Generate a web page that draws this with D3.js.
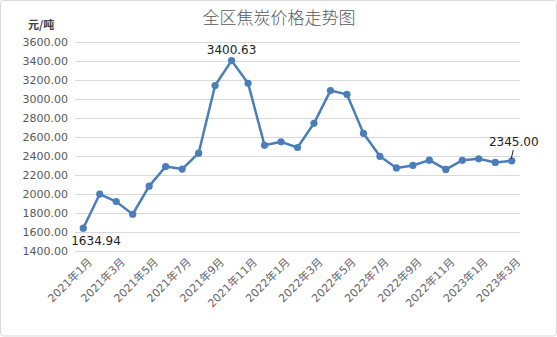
<!DOCTYPE html>
<html>
<head>
<meta charset="utf-8">
<script src="https://cdn.jsdelivr.net/npm/d3@7"></script>
<style>
  body { margin: 0; background: #fff; }
  text { font-family: "DejaVu Sans", "Noto Sans CJK SC", sans-serif; }
</style>
</head>
<body>
<div id="chartArea"></div>
<script>
const width = 557;
const height = 337;

// 月份
const months = [
    "2021年1月", "2021年2月", "2021年3月", "2021年4月", "2021年5月", "2021年6月",
    "2021年7月", "2021年8月", "2021年9月", "2021年10月", "2021年11月", "2021年12月",
    "2022年1月", "2022年2月", "2022年3月", "2022年4月", "2022年5月", "2022年6月",
    "2022年7月", "2022年8月", "2022年9月", "2022年10月", "2022年11月", "2022年12月",
    "2023年1月", "2023年2月", "2023年3月"
];
// 价格 元/吨
const prices = [
    1634.94, 1995, 1915, 1782, 2078, 2285, 2258, 2425, 3138, 3400.63, 3162, 2508,
    2545, 2485, 2740, 3085, 3045, 2635, 2392, 2270, 2296, 2352, 2254, 2350,
    2366, 2328, 2345.00
];
const yTicks = [1400, 1600, 1800, 2000, 2200, 2400, 2600, 2800, 3000, 3200, 3400, 3600];
const labeled = [0, 9, 26];

const margin = { left: 75, right: 37, top: 41.7, bottom: 86.5 };

const svg = d3.select("#chartArea")
    .append("svg")
    .attr("width", width)
    .attr("height", height);

svg.append("rect")
    .attr("x", 0.5).attr("y", 0.5)
    .attr("width", width - 1).attr("height", height - 1.5)
    .attr("rx", 3)
    .attr("fill", "#fff")
    .attr("stroke", "#d9d9d9");

const x = d3.scalePoint()
    .domain(months)
    .range([margin.left, width - margin.right])
    .padding(0.5);

const y = d3.scaleLinear()
    .domain([1400, 3600])
    .range([height - margin.bottom, margin.top]);

// grid lines
svg.append("g")
    .selectAll("line")
    .data(yTicks)
    .enter().append("line")
    .attr("x1", margin.left)
    .attr("x2", width - margin.right)
    .attr("y1", d => Math.round(y(d)) + 0.5)
    .attr("y2", d => Math.round(y(d)) + 0.5)
    .attr("stroke", "#d9d9d9")
    .attr("stroke-width", 1);

const yAxis = svg.append("g")
    .attr("transform", `translate(${margin.left - 7},0)`)
    .call(d3.axisLeft(y).tickValues(yTicks).tickFormat(d3.format(".2f")).tickSize(0).tickPadding(0));
yAxis.select(".domain").remove();
yAxis.selectAll("text")
    .attr("fill", "#595959")
    .style("font-size", "11px");

const xAxis = svg.append("g")
    .attr("transform", `translate(0,${height - margin.bottom})`)
    .call(d3.axisBottom(x).tickValues(months.filter((d, i) => i % 2 === 0)).tickSize(0));
xAxis.select(".domain").remove();
xAxis.selectAll("text")
    .attr("fill", "#666")
    .style("font-size", "11px")
    .attr("text-anchor", "end")
    .attr("dy", "0")
    .attr("transform", "translate(7,10) rotate(-45)");

// line
const line = d3.line()
    .x((d, i) => x(months[i]))
    .y(d => y(d));

svg.append("path")
    .datum(prices)
    .attr("fill", "none")
    .attr("stroke", "#4a7ebb")
    .attr("stroke-width", 2.5)
    .attr("stroke-linejoin", "round")
    .attr("d", line);

svg.append("g")
    .selectAll("circle")
    .data(prices)
    .enter().append("circle")
    .attr("cx", (d, i) => x(months[i]))
    .attr("cy", d => y(d))
    .attr("r", 3.6)
    .attr("fill", "#4a7ebb");

// data labels
const first = labeled[0], peak = labeled[1], last = labeled[2];
svg.append("text")
    .attr("x", x(months[first]) - 12)
    .attr("y", y(prices[first]) + 17)
    .style("font-size", "12px")
    .attr("fill", "#222")
    .text(prices[first].toFixed(2));

svg.append("text")
    .attr("x", x(months[peak]))
    .attr("y", y(prices[peak]) - 7)
    .attr("text-anchor", "middle")
    .style("font-size", "12px")
    .attr("fill", "#222")
    .text(prices[peak].toFixed(2));

svg.append("text")
    .attr("x", x(months[last]) + 2)
    .attr("y", y(prices[last]) - 15)
    .attr("text-anchor", "middle")
    .style("font-size", "12px")
    .attr("fill", "#222")
    .text(prices[last].toFixed(2));

svg.append("line")
    .attr("x1", x(months[last]) + 1.5)
    .attr("y1", y(prices[last]) - 11)
    .attr("x2", x(months[last]) - 0.5)
    .attr("y2", y(prices[last]) - 2)
    .attr("stroke", "#222")
    .attr("stroke-width", 1);

// title and unit
svg.append("text")
    .attr("x", 279)
    .attr("y", 24)
    .attr("text-anchor", "middle")
    .style("font-family", "'Noto Sans CJK SC', sans-serif")
    .style("font-size", "17px")
    .style("font-weight", "300")
    .attr("fill", "#595959")
    .text("全区焦炭价格走势图");

svg.append("text")
    .attr("x", 28)
    .attr("y", 29)
    .style("font-family", "'Noto Sans CJK SC', sans-serif")
    .style("font-size", "11px")
    .style("font-weight", "bold")
    .attr("fill", "#404040")
    .text("元/吨");
</script>
</body>
</html>
